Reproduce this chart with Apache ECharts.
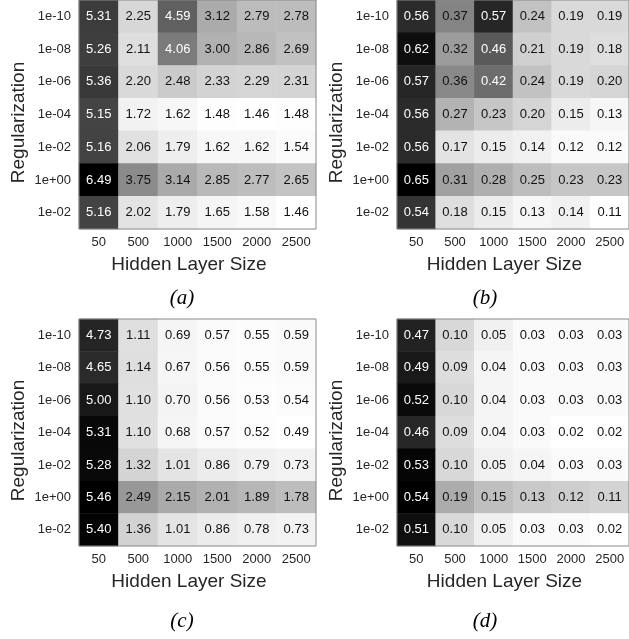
<!DOCTYPE html>
<html>
<head>
<meta charset="utf-8">
<script src="https://cdn.jsdelivr.net/npm/echarts@6/dist/echarts.min.js"></script>
<style>
  html, body { margin: 0; padding: 0; background: #fff; }
  #chart { width: 629px; height: 639px; }
</style>
</head>
<body>
<div id="chart"></div>
<script>
// Hidden layer sizes (columns) and regularization strengths (rows, top to bottom)
const hiddenSizes = ['50', '500', '1000', '1500', '2000', '2500'];
const regLabels = ['1e-10', '1e-08', '1e-06', '1e-04', '1e-02', '1e+00', '1e-02'];

// Error grids, one row per regularization value
const errA = [
  [5.31, 2.25, 4.59, 3.12, 2.79, 2.78],
  [5.26, 2.11, 4.06, 3.00, 2.86, 2.69],
  [5.36, 2.20, 2.48, 2.33, 2.29, 2.31],
  [5.15, 1.72, 1.62, 1.48, 1.46, 1.48],
  [5.16, 2.06, 1.79, 1.62, 1.62, 1.54],
  [6.49, 3.75, 3.14, 2.85, 2.77, 2.65],
  [5.16, 2.02, 1.79, 1.65, 1.58, 1.46]
];
const errB = [
  [0.56, 0.37, 0.57, 0.24, 0.19, 0.19],
  [0.62, 0.32, 0.46, 0.21, 0.19, 0.18],
  [0.57, 0.36, 0.42, 0.24, 0.19, 0.20],
  [0.56, 0.27, 0.23, 0.20, 0.15, 0.13],
  [0.56, 0.17, 0.15, 0.14, 0.12, 0.12],
  [0.65, 0.31, 0.28, 0.25, 0.23, 0.23],
  [0.54, 0.18, 0.15, 0.13, 0.14, 0.11]
];
const errC = [
  [4.73, 1.11, 0.69, 0.57, 0.55, 0.59],
  [4.65, 1.14, 0.67, 0.56, 0.55, 0.59],
  [5.00, 1.10, 0.70, 0.56, 0.53, 0.54],
  [5.31, 1.10, 0.68, 0.57, 0.52, 0.49],
  [5.28, 1.32, 1.01, 0.86, 0.79, 0.73],
  [5.46, 2.49, 2.15, 2.01, 1.89, 1.78],
  [5.40, 1.36, 1.01, 0.86, 0.78, 0.73]
];
const errD = [
  [0.47, 0.10, 0.05, 0.03, 0.03, 0.03],
  [0.49, 0.09, 0.04, 0.03, 0.03, 0.03],
  [0.52, 0.10, 0.04, 0.03, 0.03, 0.03],
  [0.46, 0.09, 0.04, 0.03, 0.02, 0.02],
  [0.53, 0.10, 0.05, 0.04, 0.03, 0.03],
  [0.54, 0.19, 0.15, 0.13, 0.12, 0.11],
  [0.51, 0.10, 0.05, 0.03, 0.03, 0.02]
];
const panelNames = ['(a)', '(b)', '(c)', '(d)'];

const panels = [errA, errB, errC, errD];
const FONT = '"Liberation Sans", Arial, sans-serif';
const SERIF = '"Liberation Serif", "Times New Roman", serif';
const TEXT = '#262626';

// panel placement: plotting area and caption anchor for each panel
const spots = [
  { left: 79, top: 0, height: 229, capX: 182, capY: 288 },
  { left: 397, top: 0, height: 229, capX: 485, capY: 288 },
  { left: 79, top: 319, height: 227, capX: 182, capY: 611 },
  { left: 397, top: 319, height: 227, capX: 485, capY: 611 }
];
const W = 237;

const grids = [], xAxes = [], yAxes = [], series = [], visualMaps = [], titles = [];

panels.forEach((grid, i) => {
  const flat = grid.flat();
  const lo = Math.min(...flat), hi = Math.max(...flat);
  const cells = [];
  grid.forEach((row, r) => {
    row.forEach((v, c) => {
      const t = (v - lo) / (hi - lo);
      cells.push({ value: [c, r, v], label: { color: t > 0.5 ? '#ffffff' : '#111111' } });
    });
  });

  grids.push({
    left: spots[i].left, top: spots[i].top, width: W, height: spots[i].height,
    show: true, z: 5, backgroundColor: 'transparent',
    borderColor: '#8a8a8a', borderWidth: 1
  });
  xAxes.push({
    type: 'category', gridIndex: i, data: hiddenSizes,
    axisLine: { show: false }, axisTick: { show: false }, splitLine: { show: false },
    axisLabel: { color: TEXT, fontFamily: FONT, fontSize: 13, margin: 7 },
    name: 'Hidden Layer Size', nameLocation: 'middle', nameGap: 26,
    nameTextStyle: { color: TEXT, fontFamily: FONT, fontSize: 19, padding: [0, 17, 0, 0] }
  });
  yAxes.push({
    type: 'category', gridIndex: i, data: regLabels, inverse: true,
    axisLine: { show: false }, axisTick: { show: false }, splitLine: { show: false },
    axisLabel: { color: TEXT, fontFamily: FONT, fontSize: 13, margin: 8 },
    name: 'Regularization', nameLocation: 'middle', nameGap: 51,
    nameTextStyle: { color: TEXT, fontFamily: FONT, fontSize: 19, padding: [0, 16, 0, 0] }
  });
  series.push({
    type: 'heatmap', xAxisIndex: i, yAxisIndex: i, data: cells,
    label: {
      show: true, fontFamily: FONT, fontSize: 13,
      formatter: p => p.value[2].toFixed(2)
    },
    emphasis: { disabled: true }
  });
  visualMaps.push({
    type: 'continuous', show: false, seriesIndex: i, dimension: 2,
    min: lo, max: hi, inRange: { color: ['#ffffff', '#000000'] }
  });
  titles.push({
    text: panelNames[i], left: spots[i].capX, top: spots[i].capY,
    textAlign: 'center', padding: 0,
    textStyle: { fontFamily: SERIF, fontStyle: 'italic', fontWeight: 'normal', fontSize: 21, color: '#000' }
  });
});

const chart = echarts.init(document.getElementById('chart'), null, { renderer: 'canvas' });
chart.setOption({
  animation: false,
  backgroundColor: '#ffffff',
  title: titles,
  grid: grids,
  xAxis: xAxes,
  yAxis: yAxes,
  visualMap: visualMaps,
  series: series
});
</script>
</body>
</html>
